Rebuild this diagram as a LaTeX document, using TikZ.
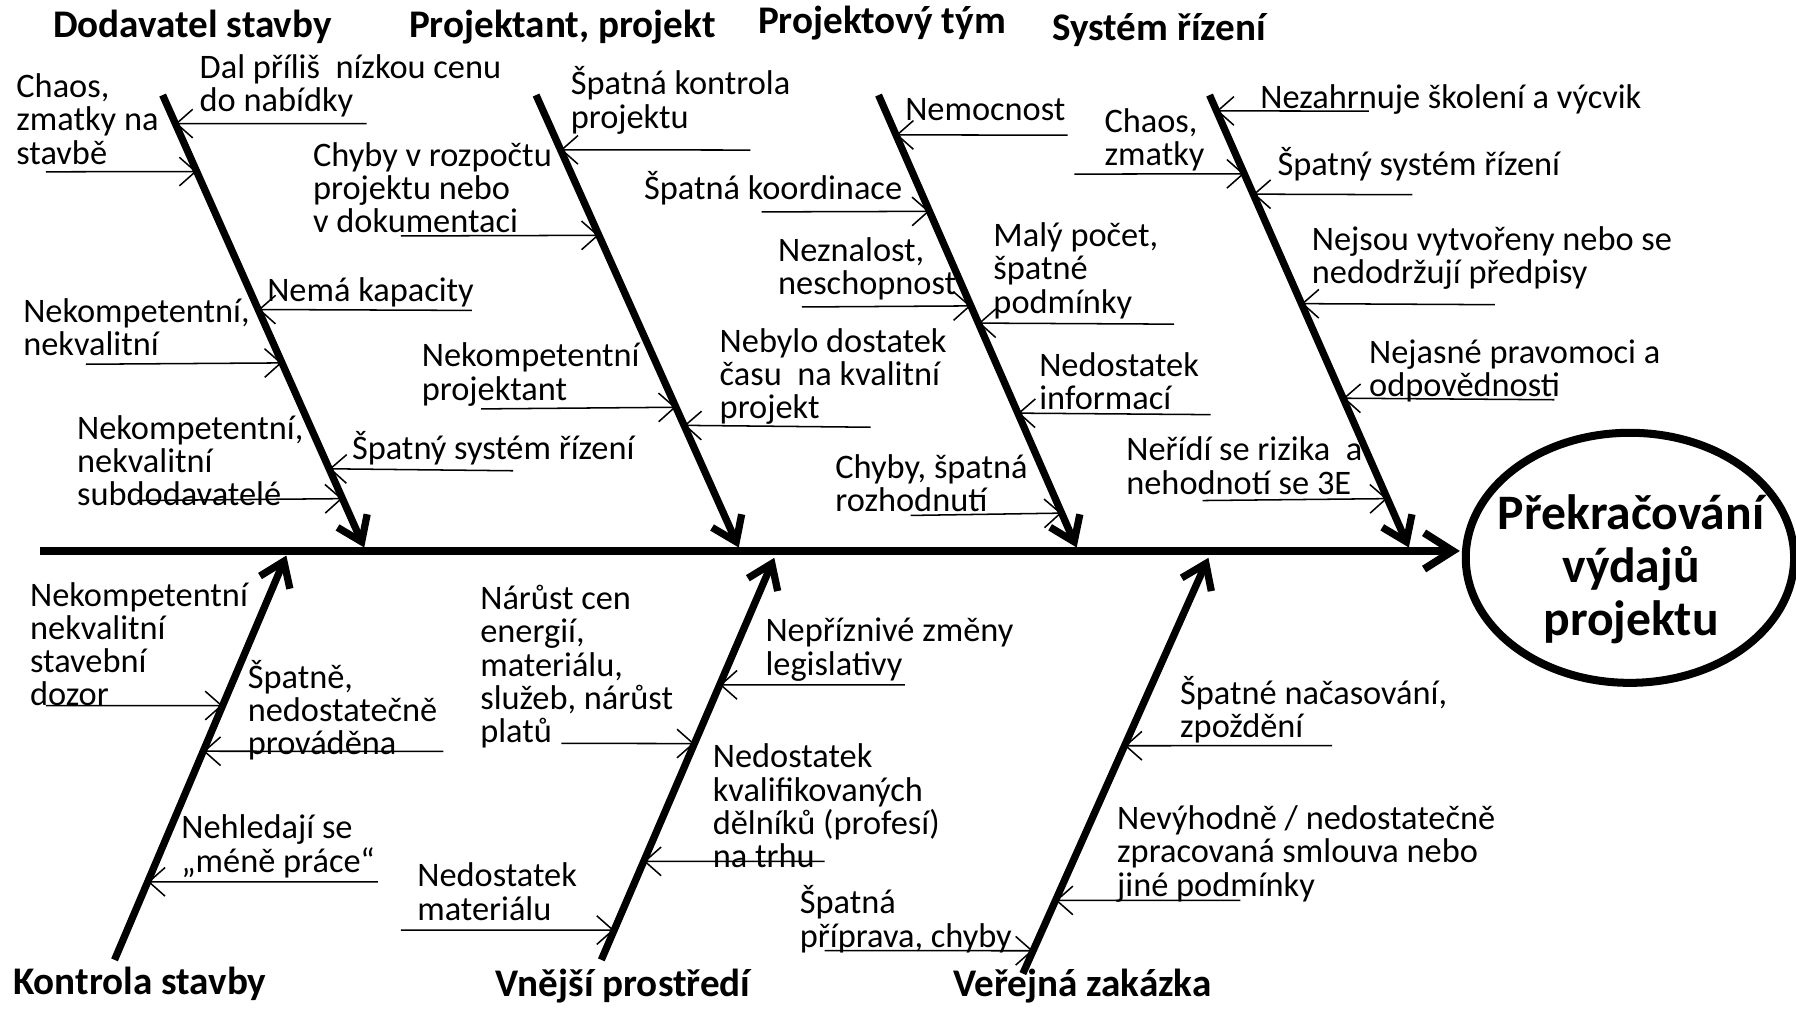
\documentclass[tikz,border=0pt]{standalone}
\usepackage{fontspec}
\setmainfont{Carlito}
\usepackage{tikz}
\usetikzlibrary{positioning}
\usetikzlibrary{shapes.geometric,calc,arrows.meta}
\newcommand\notestrut{\rule{0pt}{14.4pt}}
\tikzset{
	bone/.style = {line width=3.8pt, -{Straight Barb[length=12pt,width=17pt]}},
	spine/.style = {line width=4pt, -{Straight Barb[length=15pt,width=19pt]}},
	twig/.style = {line width=0.8pt, -{Straight Barb[length=8.5pt,width=15pt]}},
	note/.style = {anchor=north west, inner sep=0pt, align=left,
		font=\fontsize{18}{17.4}\selectfont},
	cat/.style = {anchor=mid, inner sep=0pt, font=\fontsize{20.5}{22}\selectfont\bfseries},
}
\begin{document}
\begin{tikzpicture}[x=0.6pt,y=-0.6pt]
\useasboundingbox (0,0) rectangle (1568,885);
% effect and spine
\node (effect) [ellipse, draw, line width=4.2pt, inner sep=0pt,
	minimum width=172pt, minimum height=131pt] at (1423,487) {};
\node (effecttext) [align=center, inner sep=0pt,
	font=\fontsize{26}{28}\selectfont\bfseries] at (1424,497)
	{Překračování\\výdajů\\projektu};
\coordinate (tail) at (35,481);
\draw[spine] (tail) -- ([xshift=-1pt]tail -| effect.west);

% top bones
\coordinate (d1a) at (142,83);  \coordinate (d1b) at (318,478);
\coordinate (d2a) at (468,83);  \coordinate (d2b) at (645,478);
\coordinate (d3a) at (767,83);  \coordinate (d3b) at (940,478);
\coordinate (d4a) at (1056,83); \coordinate (d4b) at (1230,478);
\foreach \b in {d1,d2,d3,d4}
	\draw[bone] (\b a) -- (\b b);
\node (t1) [cat] at (168,29) {Dodavatel stavby};
\node (t2) [cat] at (491,29) {Projektant, projekt};
\node (t3) [cat] at (770,25) {Projektový tým};
\node (t4) [cat] at (1012,31) {Systém řízení};

% bottom bones
\coordinate (k1a) at (100,838); \coordinate (k1b) at (250,485);
\coordinate (v1a) at (525,838); \coordinate (v1b) at (676,487);
\coordinate (z1a) at (893,850); \coordinate (z1b) at (1055,487);
\foreach \b in {k1,v1,z1}
	\draw[bone] (\b a) -- (\b b);
\node (t5) [cat] at (122,864) {Kontrola stavby};
\node (t6) [cat] at (544,866) {Vnější prostředí};
\node (t7) [cat] at (945,866) {Veřejná zakázka};

% Dodavatel stavby
\node (n11) [note] at (174,44) {\notestrut Dal příliš~ nízkou cenu\\do nabídky};
\node (n12) [note] at (14,61) {\notestrut Chaos,\\zmatky na\\stavbě};
\node (n13) [note] at (233,239) {\notestrut Nemá kapacity};
\node (n14) [note] at (20,257) {\notestrut Nekompetentní,\\nekvalitní};
\node (n15) [note] at (307,376) {\notestrut Špatný systém řízení};
\node (n16) [note] at (67,359) {\notestrut Nekompetentní,\\nekvalitní\\subdodavatelé};
\coordinate (a11) at (320,108);
\coordinate (a12) at (40,150);
\coordinate (a13) at (412,271);
\coordinate (a14) at (75,318);
\coordinate (a15) at (448,411);
\coordinate (a16) at (120,437);
\draw[twig] (a11) -- ($(d1a)!0.063!(d1b)$);
\draw[twig] (a12) -- ($(d1a)!0.169!(d1b)$);
\draw[twig] (a13) -- ($(d1a)!0.474!(d1b)$);
\draw[twig] (a14) -- ($(d1a)!0.592!(d1b)$);
\draw[twig] (a15) -- ($(d1a)!0.826!(d1b)$);
\draw[twig] (a16) -- ($(d1a)!0.892!(d1b)$);

% Projektant, projekt
\node (n21) [note] at (498,58) {\notestrut Špatná kontrola\\projektu};
\node (n22) [note] at (273,121) {\notestrut Chyby v rozpočtu\\projektu nebo\\v dokumentaci};
\node (n23) [note] at (368,296) {\notestrut Nekompetentní\\projektant};
\node (n24) [note] at (628,283) {\notestrut Nebylo dostatek\\času~ na kvalitní\\projekt};
\coordinate (a21) at (655,131);
\coordinate (a22) at (350,206);
\coordinate (a23) at (420,357);
\coordinate (a24) at (760,373);
\draw[twig] (a21) -- ($(d2a)!0.121!(d2b)$);
\draw[twig] (a22) -- ($(d2a)!0.310!(d2b)$);
\draw[twig] (a23) -- ($(d2a)!0.690!(d2b)$);
\draw[twig] (a24) -- ($(d2a)!0.730!(d2b)$);

% Projektovy tym
\node (n31) [note] at (790,81) {\notestrut Nemocnost};
\node (n32) [note] at (562,149) {\notestrut Špatná koordinace};
\node (n33) [note] at (679,204) {\notestrut Neznalost,\\neschopnost};
\node (n34) [note] at (867,191) {\notestrut Malý počet,\\špatné\\podmínky};
\node (n35) [note] at (907,304) {\notestrut Nedostatek\\informací};
\node (n36) [note] at (729,393) {\notestrut Chyby, špatná\\rozhodnutí};
\coordinate (a31) at (932,118);
\coordinate (a32) at (665,185);
\coordinate (a33) at (700,268);
\coordinate (a34) at (1025,283);
\coordinate (a35) at (1057,362);
\coordinate (a36) at (795,450);
\draw[twig] (a31) -- ($(d3a)!0.088!(d3b)$);
\draw[twig] (a32) -- ($(d3a)!0.257!(d3b)$);
\draw[twig] (a33) -- ($(d3a)!0.466!(d3b)$);
\draw[twig] (a34) -- ($(d3a)!0.504!(d3b)$);
\draw[twig] (a35) -- ($(d3a)!0.703!(d3b)$);
\draw[twig] (a36) -- ($(d3a)!0.924!(d3b)$);

% System rizeni
\node (n41) [note] at (1100,70) {\notestrut Nezahrnuje školení a výcvik};
\node (n42) [note] at (964,91) {\notestrut Chaos,\\zmatky};
\node (n43) [note] at (1115,128) {\notestrut Špatný systém řízení};
\node (n44) [note] at (1145,194) {\notestrut Nejsou vytvořeny nebo se\\nedodržují předpisy};
\node (n45) [note] at (1195,293) {\notestrut Nejasné pravomoci a\\odpovědnosti};
\node (n46) [note] at (983,378) {\notestrut Neřídí se rizika~ a\\nehodnotí se 3E};
\coordinate (a41) at (1195,97);
\coordinate (a42) at (938,152);
\coordinate (a43) at (1233,170);
\coordinate (a44) at (1305,266);
\coordinate (a45) at (1357,349);
\coordinate (a46) at (1050,437);
\draw[twig] (a41) -- ($(d4a)!0.035!(d4b)$);
\draw[twig] (a42) -- ($(d4a)!0.174!(d4b)$);
\draw[twig] (a43) -- ($(d4a)!0.219!(d4b)$);
\draw[twig] (a44) -- ($(d4a)!0.461!(d4b)$);
\draw[twig] (a45) -- ($(d4a)!0.670!(d4b)$);
\draw[twig] (a46) -- ($(d4a)!0.892!(d4b)$);

% Kontrola stavby
\node (m11) [note] at (26,505) {\notestrut Nekompetentní\\nekvalitní\\stavební\\dozor};
\node (m12) [note] at (216,576) {\notestrut Špatně,\\nedostatečně\\prováděna};
\node (m13) [note] at (158,708) {\notestrut Nehledají se\\„méně práce“};
\coordinate (b11) at (40,616);
\coordinate (b12) at (387,656);
\coordinate (b13) at (330,770);
\draw[twig] (b11) -- ($(k1a)!0.629!(k1b)$);
\draw[twig] (b12) -- ($(k1a)!0.516!(k1b)$);
\draw[twig] (b13) -- ($(k1a)!0.193!(k1b)$);

% Vnejsi prostredi
\node (m21) [note] at (419,508) {\notestrut Nárůst cen\\energií,\\materiálu,\\služeb, nárůst\\platů};
\node (m22) [note] at (668,536) {\notestrut Nepříznivé změny\\legislativy};
\node (m23) [note] at (622,646) {\notestrut Nedostatek\\kvalifikovaných\\dělníků (profesí)\\na trhu};
\node (m24) [note] at (364,750) {\notestrut Nedostatek\\materiálu};
\coordinate (b21) at (490,649);
\coordinate (b22) at (790,598);
\coordinate (b23) at (720,752);
\coordinate (b24) at (350,812);
\draw[twig] (b21) -- ($(v1a)!0.538!(v1b)$);
\draw[twig] (b22) -- ($(v1a)!0.684!(v1b)$);
\draw[twig] (b23) -- ($(v1a)!0.245!(v1b)$);
\draw[twig] (b24) -- ($(v1a)!0.074!(v1b)$);

% Verejna zakazka
\node (m31) [note] at (1030,590) {\notestrut Špatné načasování,\\zpoždění};
\node (m32) [note] at (975,700) {\notestrut Nevýhodně / nedostatečně\\zpracovaná smlouva nebo\\jiné podmínky};
\node (m33) [note] at (698,773) {\notestrut Špatná\\příprava, chyby};
\coordinate (b31) at (1163,651);
\coordinate (b32) at (1083,786);
\coordinate (b33) at (720,830);
\draw[twig] (b31) -- ($(z1a)!0.548!(z1b)$);
\draw[twig] (b32) -- ($(z1a)!0.176!(z1b)$);
\draw[twig] (b33) -- ($(z1a)!0.055!(z1b)$);
\end{tikzpicture}
\end{document}
